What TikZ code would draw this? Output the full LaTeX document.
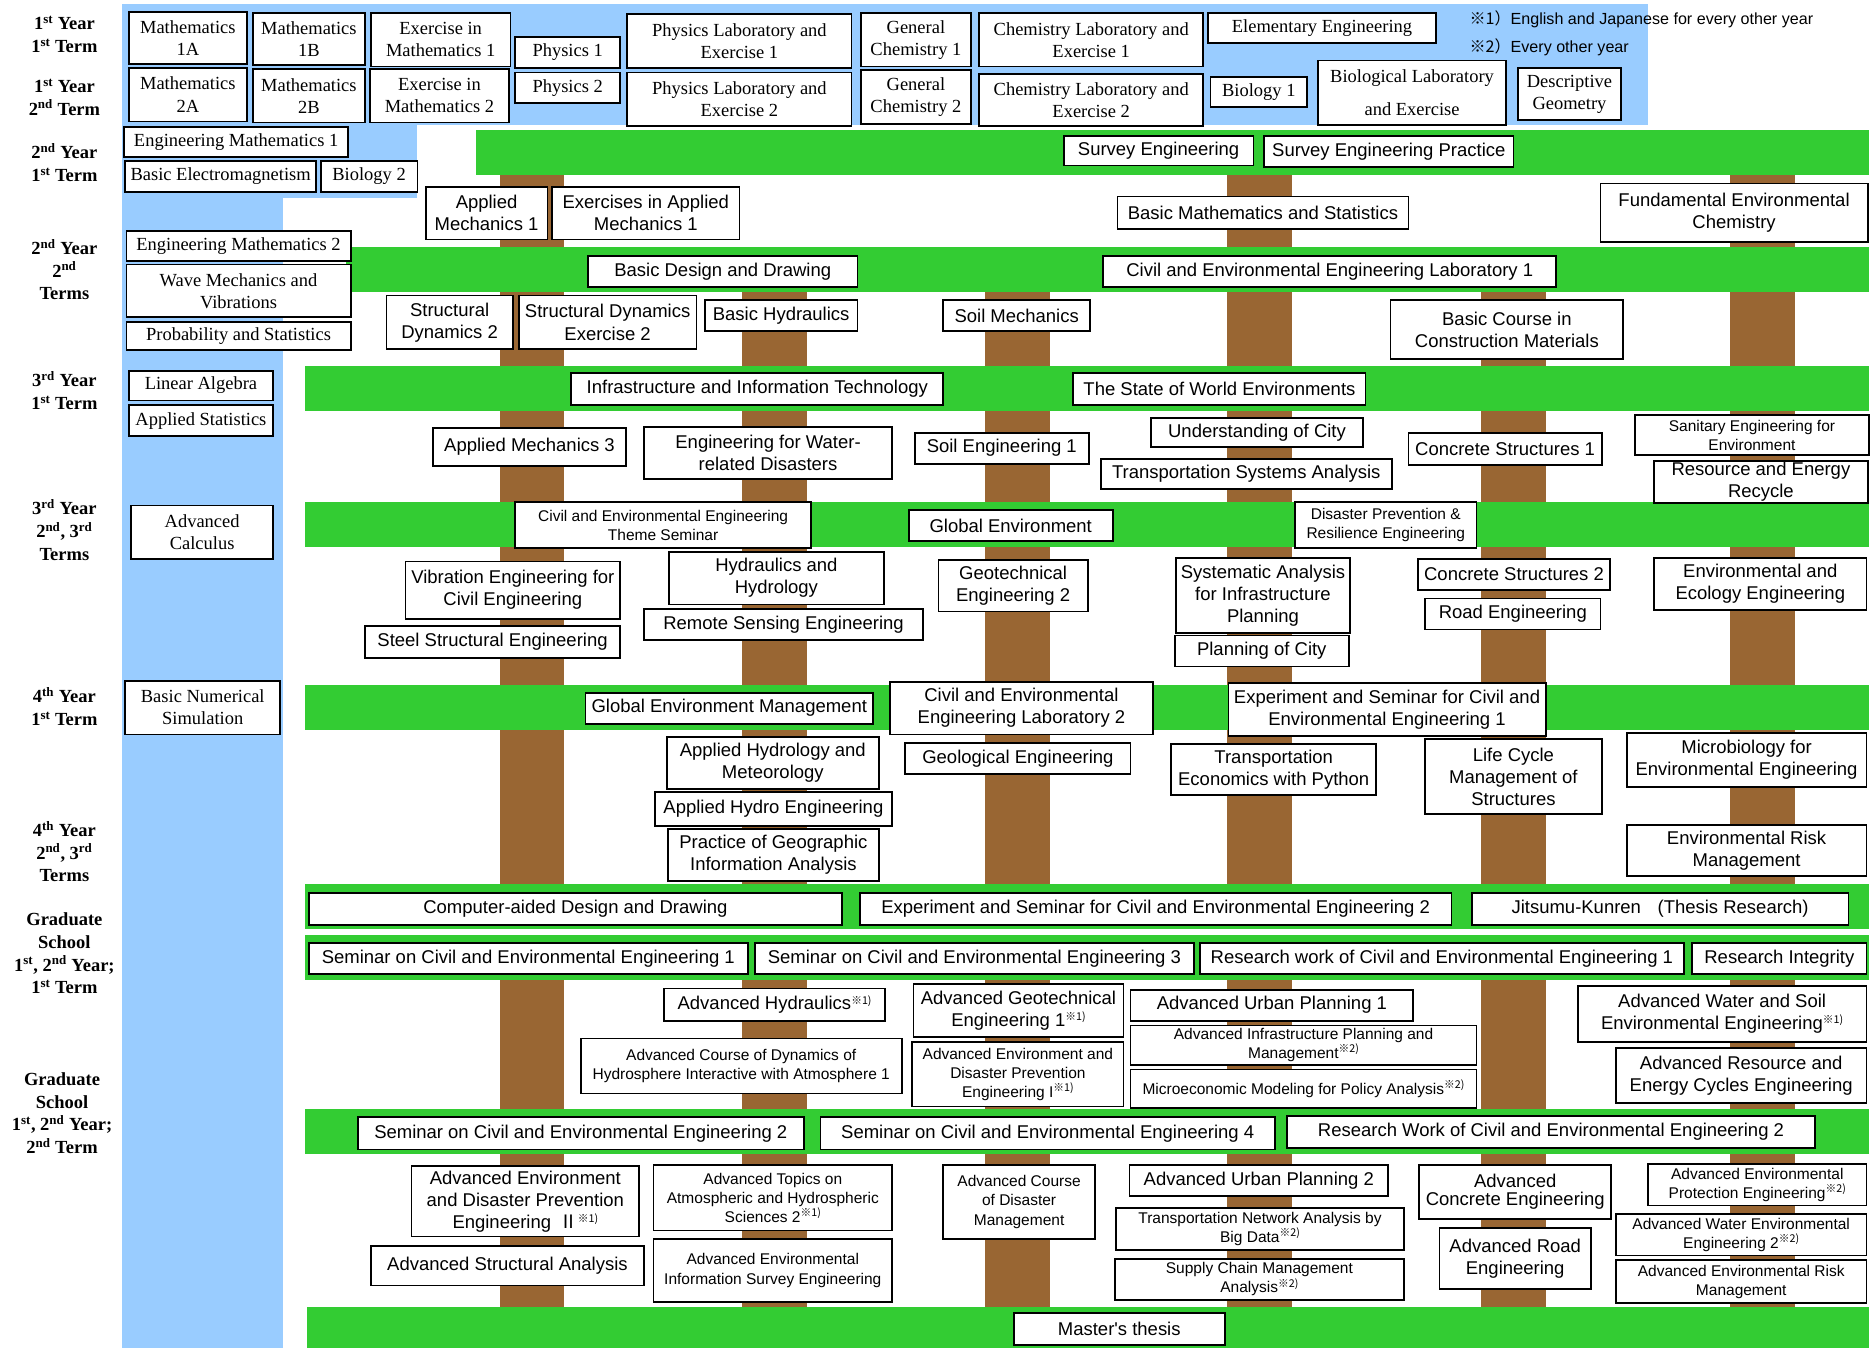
\documentclass[tikz,border=0pt]{standalone}
\usepackage{fontspec}
\setmainfont{Liberation Serif}
\setsansfont{Liberation Sans}
\newfontfamily\cjk{Noto Sans CJK JP}
\definecolor{skyblue}{HTML}{99CCFF}
\definecolor{leafgreen}{HTML}{33CC33}
\definecolor{barkbrown}{HTML}{996633}
% footnote marks such as ※1)
\newcommand\gnote[1]{\raisebox{5pt}{\cjk\fontsize{9}{9}\selectfont ※#1)}}
% course box from its corners (x1,y1)-(x2,y2), y measured downwards
\newcommand\crs[7][sbox]{\node[#1,minimum width={#5-#3},minimum height={#6-#4}] (#2) at ({(#3+#5)/2},{(#4+#6)/2+0.8}) {#7};}
\tikzset{
  cbase/.style={draw=black, line width=1.5pt, fill=white, align=center, inner sep=1pt},
  rbox/.style={cbase, font=\rmfamily\fontsize{15.5}{18.5}\selectfont},
  sbox/.style={cbase, font=\sffamily\fontsize{15.5}{18.5}\selectfont},
  tbox/.style={cbase, font=\sffamily\fontsize{13}{16}\selectfont},
  lbl/.style={align=center, inner sep=0pt, font=\rmfamily\bfseries\fontsize{15.5}{19}\selectfont},
  note/.style={inner sep=0pt, anchor=west, font=\sffamily\fontsize{13.5}{16}\selectfont},
}
\begin{document}
\begin{tikzpicture}[x=1pt,y=-1pt]
\useasboundingbox (0,0) rectangle (1568,1130);
% liberal arts / basic science area
\fill[skyblue] (102,3.5) rectangle (1382,105);
\fill[skyblue] (102,104) rectangle (350,166);
\fill[skyblue] (102,165) rectangle (237,1130);
% trunks
\foreach \a/\b/\t in {419/473/146, 622.5/677/245, 826/880/245, 1029/1083/146, 1242/1296/245, 1451/1505/146}{
  \fill[barkbrown] (\a,\t) rectangle (\b,742);
  \fill[barkbrown] (\a,821) rectangle (\b,1097);
}
% branches
\fill[leafgreen] (399,109) rectangle (1567,147);
\fill[leafgreen] (290,207) rectangle (1567,245);
\fill[leafgreen] (256,307) rectangle (1567,345);
\fill[leafgreen] (256,421) rectangle (1567,459);
\fill[leafgreen] (256,574) rectangle (1567,612);
\fill[leafgreen] (256,741) rectangle (1567,779);
\fill[leafgreen] (256,784) rectangle (1567,822);
\fill[leafgreen] (256,930) rectangle (1567,968);
\fill[leafgreen] (257,1096) rectangle (1567,1130);

% term labels
\node[lbl] (t11) at (54,29) {1\textsuperscript{st} Year\\1\textsuperscript{st} Term};
\node[lbl] (t12) at (54,81.5) {1\textsuperscript{st} Year\\2\textsuperscript{nd} Term};
\node[lbl] (t21) at (54,136.5) {2\textsuperscript{nd} Year\\1\textsuperscript{st} Term};
\node[lbl] (t22) at (54,226) {2\textsuperscript{nd} Year\\2\textsuperscript{nd}\\Terms};
\node[lbl] (t31) at (54,327.5) {3\textsuperscript{rd} Year\\1\textsuperscript{st} Term};
\node[lbl] (t32) at (54,444.5) {3\textsuperscript{rd} Year\\2\textsuperscript{nd}, 3\textsuperscript{rd}\\Terms};
\node[lbl] (t41) at (54,592.5) {4\textsuperscript{th} Year\\1\textsuperscript{st} Term};
\node[lbl] (t42) at (54,714) {4\textsuperscript{th} Year\\2\textsuperscript{nd}, 3\textsuperscript{rd}\\Terms};
\node[lbl] (g1) at (54,799.5) {Graduate\\School\\1\textsuperscript{st}, 2\textsuperscript{nd} Year;\\1\textsuperscript{st} Term};
\node[lbl] (g2) at (52,933.5) {Graduate\\School\\1\textsuperscript{st}, 2\textsuperscript{nd} Year;\\2\textsuperscript{nd} Term};

% notes
\node[note] (n1) at (1232,16) {{\cjk ※1）}English and Japanese for every other year};
\node[note] (n2) at (1232,40) {{\cjk ※2）}Every other year};

% 1st year
\crs[rbox]{m1a}{108}{9}{207}{53}{Mathematics\\1A}
\crs[rbox]{m1b}{212}{10}{306}{54}{Mathematics\\1B}
\crs[rbox]{em1}{311}{10}{428}{55}{Exercise in\\Mathematics 1}
\crs[rbox]{ph1}{432}{30}{520}{56}{Physics 1}
\crs[rbox]{pl1}{526}{11}{714}{56}{Physics Laboratory and\\Exercise 1}
\crs[rbox]{gc1}{722}{10}{814}{55}{General\\Chemistry 1}
\crs[rbox]{cl1}{821}{10}{1009}{55}{Chemistry Laboratory and\\Exercise 1}
\crs[rbox]{elen}{1013}{10}{1204}{35}{Elementary Engineering}
\crs[rbox]{m2a}{108}{56}{207}{101}{Mathematics\\2A}
\crs[rbox]{m2b}{212}{57}{306}{102}{Mathematics\\2B}
\crs[rbox]{em2}{310}{57}{427}{102}{Exercise in\\Mathematics 2}
\crs[rbox]{ph2}{432}{60}{520}{85.5}{Physics 2}
\crs[rbox]{pl2}{526}{60}{714}{105}{Physics Laboratory and\\Exercise 2}
\crs[rbox]{gc2}{722}{58}{814}{103}{General\\Chemistry 2}
\crs[rbox]{cl2}{821}{61}{1009}{105}{Chemistry Laboratory and\\Exercise 2}
\crs[rbox]{bio1}{1015}{64}{1096}{89}{Biology 1}
\crs[rbox]{biolab}{1105}{50}{1263}{104}{Biological Laboratory\\[9pt]and Exercise}
\crs[rbox]{dgeo}{1273}{56}{1359}{100}{Descriptive\\Geometry}

% 2nd year
\crs[rbox]{enm1}{104}{106}{292}{131}{Engineering Mathematics 1}
\crs[rbox]{bem}{105}{134}{265}{160}{Basic Electromagnetism}
\crs[rbox]{bio2}{269}{134}{350}{160}{Biology 2}
\crs{surv}{892}{113}{1051}{138}{Survey Engineering}
\crs{survp}{1060}{113}{1269}{139}{Survey Engineering Practice}
\crs{am1}{357}{156}{459}{200}{Applied\\Mechanics 1}
\crs{eam1}{463}{156}{620}{200}{Exercises in Applied\\Mechanics 1}
\crs{bms}{937}{164}{1181}{191}{Basic Mathematics and Statistics}
\crs{fec}{1342}{153}{1566}{202}{Fundamental Environmental\\Chemistry}
\crs[rbox]{enm2}{106}{193}{294}{218}{Engineering Mathematics 2}
\crs[rbox]{wmv}{106}{221}{294}{265}{Wave Mechanics and\\Vibrations}
\crs[rbox]{pst}{106}{269}{294}{293}{Probability and Statistics}
\crs{bdd}{493}{214}{719}{240}{Basic Design and Drawing}
\crs{cel1}{925}{214}{1305}{240}{Civil and Environmental Engineering Laboratory 1}
\crs{sd2}{324}{247}{430}{292}{Structural\\Dynamics 2}
\crs{sde2}{435}{247}{584}{292}{Structural Dynamics\\Exercise 2}
\crs{bhy}{591}{251}{719}{277}{Basic Hydraulics}
\crs{smech}{791}{251}{914}{277}{Soil Mechanics}
\crs{bccm}{1166}{251}{1361}{300}{Basic Course in\\Construction Materials}

% 3rd year, 1st term
\crs[rbox]{linalg}{108}{310}{229}{335}{Linear Algebra}
\crs[rbox]{apst}{108}{339}{229}{365}{Applied Statistics}
\crs{iit}{479}{312}{791}{339}{Infrastructure and Information Technology}
\crs{swe}{900}{312}{1145}{339}{The State of World Environments}
\crs{am3}{363}{358}{525}{390}{Applied Mechanics 3}
\crs{ewd}{540}{357}{748}{401}{Engineering for Water-\\related Disasters}
\crs{se1}{767}{362}{913}{388}{Soil Engineering 1}
\crs{uoc}{965}{350}{1143}{374}{Understanding of City}
\crs{tsa}{923}{384}{1167}{409}{Transportation Systems Analysis}
\crs{cs1}{1181}{362}{1343}{389}{Concrete Structures 1}
\crs[tbox]{sefe}{1371}{347}{1567}{381}{Sanitary Engineering for\\Environment}
\crs{rer}{1387}{387}{1566}{420}{Resource and Energy\\Recycle}

% 3rd year, 2nd and 3rd terms
\crs[rbox]{advc}{110}{423}{229}{468}{Advanced\\Calculus}
\crs[tbox]{cets}{432}{420}{680}{459}{Civil and Environmental Engineering\\Theme Seminar}
\crs{genv}{762}{427}{933}{453}{Global Environment}
\crs[tbox]{dpre}{1086}{420}{1238}{459}{Disaster Prevention \&\\Resilience Engineering}
\crs{vece}{340}{470}{520}{518}{Vibration Engineering for\\Civil Engineering}
\crs{sse}{306}{524}{520}{551}{Steel Structural Engineering}
\crs{hyh}{561}{462}{741}{506}{Hydraulics and\\Hydrology}
\crs{rse}{540}{510}{774}{536}{Remote Sensing Engineering}
\crs{ge2}{787}{469}{912}{512}{Geotechnical\\Engineering 2}
\crs{saip}{986}{467}{1132}{530}{Systematic Analysis\\for Infrastructure\\Planning}
\crs{poc}{985}{532}{1131}{558}{Planning of City}
\crs{cs2}{1189}{468}{1350}{494}{Concrete Structures 2}
\crs{roade}{1195}{501}{1342}{527}{Road Engineering}
\crs{eee}{1387}{467}{1565}{511}{Environmental and\\Ecology Engineering}

% 4th year
\crs[rbox]{bns}{105}{570}{235}{615}{Basic Numerical\\Simulation}
\crs{gem}{491}{580}{732}{606}{Global Environment Management}
\crs{cel2}{746}{571}{967}{615}{Civil and Environmental\\Engineering Laboratory 2}
\crs{ese1}{1030}{572}{1296}{616}{Experiment and Seminar for Civil and\\Environmental Engineering 1}
\crs{ahm}{559}{617}{737}{661}{Applied Hydrology and\\Meteorology}
\crs{ahe}{549}{663}{748}{692}{Applied Hydro Engineering}
\crs{pgia}{560}{694}{737}{738}{Practice of Geographic\\Information Analysis}
\crs{geol}{759}{622}{948}{648}{Geological Engineering}
\crs{tep}{982}{623}{1154}{666}{Transportation\\Economics with Python}
\crs{lcms}{1195}{619}{1343}{682}{Life Cycle\\Management of\\Structures}
\crs{mbee}{1364}{614}{1565}{659}{Microbiology for\\Environmental Engineering}
\crs{erm}{1364}{691}{1565}{734}{Environmental Risk\\Management}
\crs{cadd}{259}{748}{706}{775}{Computer-aided Design and Drawing}
\crs{ese2}{721}{748}{1217}{775}{Experiment and Seminar for Civil and Environmental Engineering 2}
\crs{jk}{1234}{748}{1550}{775}{Jitsumu-Kunren\hspace{0.9em}(Thesis Research)}

% graduate school, 1st term
\crs{sem1}{259}{790}{627}{816}{Seminar on Civil and Environmental Engineering 1}
\crs{sem3}{633}{790}{1001}{816}{Seminar on Civil and Environmental Engineering 3}
\crs{rw1}{1006}{790}{1412}{816}{Research work of Civil and Environmental Engineering 1}
\crs{rint}{1419}{790}{1565}{816}{Research Integrity}
\crs{ahyd}{557}{828}{742}{855}{Advanced Hydraulics\gnote{1}}
\crs{age1}{766}{824}{942}{869}{Advanced Geotechnical\\Engineering 1\gnote{1}}
\crs{aup1}{948}{829}{1185}{855}{Advanced Urban Planning 1}
\crs[tbox]{aipm}{948}{859}{1238}{892}{Advanced Infrastructure Planning and\\Management\gnote{2}}
\crs[tbox]{mmpa}{948}{896}{1238}{928}{Microeconomic Modeling for Policy Analysis\gnote{2}}
\crs[tbox]{acdh}{487}{870}{756}{916}{Advanced Course of Dynamics of\\Hydrosphere Interactive with Atmosphere 1}
\crs[tbox]{aedp1}{765}{873}{942}{927}{Advanced Environment and\\Disaster Prevention\\Engineering I\gnote{1}}
\crs{awse}{1323}{826}{1565}{873}{Advanced Water and Soil\\Environmental Engineering\gnote{1}}
\crs{arec}{1355}{878}{1565}{924}{Advanced Resource and\\Energy Cycles Engineering}

% graduate school, 2nd term
\crs{sem2}{300}{936}{674}{963}{Seminar on Civil and Environmental Engineering 2}
\crs{sem4}{688}{936}{1069}{963}{Seminar on Civil and Environmental Engineering 4}
\crs{rw2}{1079}{935}{1522}{962}{Research Work of Civil and Environmental Engineering 2}
\crs{aedp2}{345}{977}{536}{1036}{Advanced Environment\\and Disaster Prevention\\Engineering \,{\cjk Ⅱ}\gnote{1}}
\crs{asa}{311}{1044}{540}{1077}{Advanced Structural Analysis}
\crs[tbox]{atah}{548}{976}{748}{1031}{Advanced Topics on\\Atmospheric and Hydrospheric\\Sciences 2\gnote{1}}
\crs[tbox]{aeis}{548}{1038}{748}{1091}{Advanced Environmental\\Information Survey Engineering}
\crs[tbox]{acdm}{791}{976}{918}{1038}{Advanced Course\\of Disaster\\Management}
\crs{aup2}{947}{976}{1164}{1002}{Advanced Urban Planning 2}
\crs[tbox]{tnab}{936}{1012}{1177}{1047}{Transportation Network Analysis by\\Big Data\gnote{2}}
\crs[tbox]{scma}{935}{1055}{1177}{1089}{Supply Chain Management\\Analysis\gnote{2}}
\crs{ace}{1190}{976}{1351}{1021}{Advanced\\[-3pt]Concrete Engineering}
\crs{are}{1207}{1029}{1334}{1080}{Advanced Road\\Engineering}
\crs[tbox]{aepe}{1382}{975}{1565}{1010}{Advanced Environmental\\Protection Engineering\gnote{2}}
\crs[tbox]{awe2}{1355}{1017}{1565}{1052}{Advanced Water Environmental\\Engineering 2\gnote{2}}
\crs[tbox]{aerm}{1355}{1056}{1565}{1092}{Advanced Environmental Risk\\Management}
\crs{mth}{850}{1100}{1027}{1127}{Master\textquotesingle s thesis}
\end{tikzpicture}
\end{document}
